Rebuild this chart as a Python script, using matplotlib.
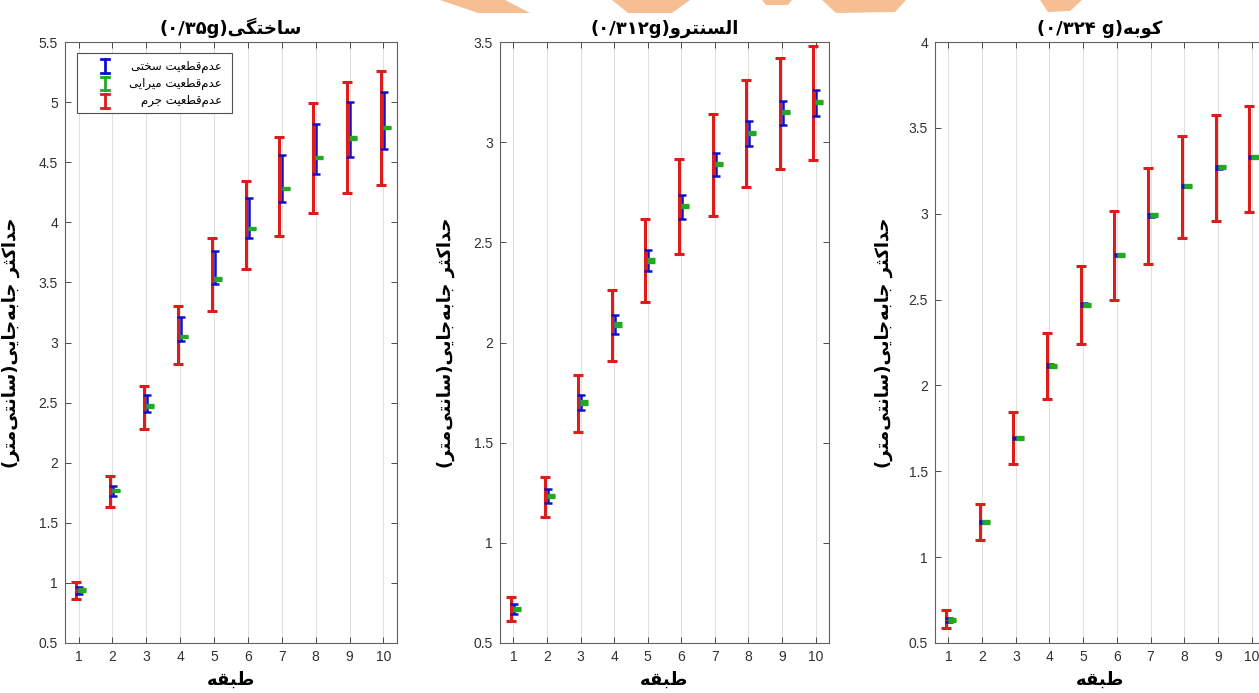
import matplotlib
matplotlib.use('Agg')
import matplotlib.pyplot as plt
from matplotlib.patches import Polygon, Rectangle
from matplotlib.lines import Line2D
from matplotlib.ticker import MultipleLocator, FormatStrFormatter

# ---------------------------------------------------------------- data
floors = [1, 2, 3, 4, 5, 6, 7, 8, 9, 10]

# panel 1 : artificial (0.35g)
mean_1 = [0.94, 1.77, 2.47, 3.05, 3.53, 3.95, 4.28, 4.54, 4.70, 4.79]
red_lo_1 = [0.87, 1.63, 2.28, 2.82, 3.26, 3.61, 3.89, 4.08, 4.24, 4.31]
red_hi_1 = [1.01, 1.89, 2.64, 3.30, 3.87, 4.34, 4.71, 4.99, 5.17, 5.26]
blue_lo_1 = [0.91, 1.72, 2.42, 3.01, 3.49, 3.87, 4.17, 4.40, 4.54, 4.61]
blue_hi_1 = [0.97, 1.81, 2.56, 3.21, 3.76, 4.20, 4.56, 4.82, 5.00, 5.08]

# panel 2 : El Centro (0.312g)
mean_2 = [0.67, 1.235, 1.70, 2.09, 2.41, 2.68, 2.89, 3.045, 3.15, 3.20]
red_lo_2 = [0.61, 1.13, 1.555, 1.91, 2.20, 2.44, 2.63, 2.775, 2.865, 2.91]
red_hi_2 = [0.73, 1.33, 1.84, 2.26, 2.615, 2.915, 3.14, 3.31, 3.42, 3.48]
blue_lo_2 = [0.645, 1.20, 1.665, 2.04, 2.355, 2.615, 2.83, 2.98, 3.085, 3.13]
blue_hi_2 = [0.695, 1.27, 1.74, 2.135, 2.46, 2.735, 2.945, 3.105, 3.205, 3.26]

# panel 3 : Kobe (0.324g)
mean_3 = [0.635, 1.205, 1.695, 2.115, 2.47, 2.76, 2.99, 3.16, 3.27, 3.33]
red_lo_3 = [0.585, 1.10, 1.545, 1.92, 2.24, 2.50, 2.705, 2.86, 2.96, 3.01]
red_hi_3 = [0.69, 1.31, 1.845, 2.305, 2.695, 3.015, 3.265, 3.45, 3.575, 3.63]
blue_lo_3 = [0.625, 1.198, 1.688, 2.106, 2.462, 2.752, 2.983, 3.153, 3.263, 3.322]
blue_hi_3 = [0.645, 1.212, 1.702, 2.124, 2.478, 2.768, 2.997, 3.167, 3.277, 3.338]

green_err = [0.006, 0.006, 0.006, 0.006, 0.006, 0.006, 0.006, 0.006, 0.006, 0.006]

ylims = [(0.5, 5.5), (0.5, 3.5), (0.5, 4.0)]

# ---------------------------------------------------------------- persian text shaping
FORMS = {
  '\u0627': ('\uFE8D', '\uFE8E', None, None),          # alef
  '\u0628': ('\uFE8F', '\uFE90', '\uFE91', '\uFE92'),  # beh
  '\u062A': ('\uFE95', '\uFE96', '\uFE97', '\uFE98'),  # teh
  '\u062B': ('\uFE99', '\uFE9A', '\uFE9B', '\uFE9C'),  # theh
  '\u062C': ('\uFE9D', '\uFE9E', '\uFE9F', '\uFEA0'),  # jeem
  '\u062D': ('\uFEA1', '\uFEA2', '\uFEA3', '\uFEA4'),  # hah
  '\u062E': ('\uFEA5', '\uFEA6', '\uFEA7', '\uFEA8'),  # khah
  '\u062F': ('\uFEA9', '\uFEAA', None, None),          # dal
  '\u0631': ('\uFEAD', '\uFEAE', None, None),          # reh
  '\u0633': ('\uFEB1', '\uFEB2', '\uFEB3', '\uFEB4'),  # seen
  '\u0637': ('\uFEC1', '\uFEC2', '\uFEC3', '\uFEC4'),  # tah
  '\u0639': ('\uFEC9', '\uFECA', '\uFECB', '\uFECC'),  # ain
  '\u0642': ('\uFED5', '\uFED6', '\uFED7', '\uFED8'),  # qaf
  '\u0644': ('\uFEDD', '\uFEDE', '\uFEDF', '\uFEE0'),  # lam
  '\u0645': ('\uFEE1', '\uFEE2', '\uFEE3', '\uFEE4'),  # meem
  '\u0646': ('\uFEE5', '\uFEE6', '\uFEE7', '\uFEE8'),  # noon
  '\u0647': ('\uFEE9', '\uFEEA', '\uFEEB', '\uFEEC'),  # heh
  '\u0648': ('\uFEED', '\uFEEE', None, None),          # waw
  '\u06A9': ('\uFB8E', '\uFB8F', '\uFB90', '\uFB91'),  # keheh
  '\u06AF': ('\uFB92', '\uFB93', '\uFB94', '\uFB95'),  # gaf
  '\u06CC': ('\uFBFC', '\uFBFD', '\uFBFE', '\uFBFF'),  # farsi yeh
}

def rtl(s):
  out = []
  for i, c in enumerate(s):
    if c not in FORMS:
      if c != '\u200c':
        out.append(c)
      continue
    prev = s[i-1] if i > 0 else None
    nxt = s[i+1] if i+1 < len(s) else None
    join_prev = prev in FORMS and FORMS[prev][2] is not None
    join_next = nxt in FORMS and FORMS[c][2] is not None
    iso, fin, ini, med = FORMS[c]
    if join_prev and join_next:
      out.append(med)
    elif join_prev:
      out.append(fin)
    elif join_next:
      out.append(ini)
    else:
      out.append(iso)
  return ''.join(reversed(out)).translate(str.maketrans('()', ')('))

titles = ['(\u06F0/\u06F3\u06F5g)' + rtl('ساختگی'),
          '(\u06F0/\u06F3\u06F1\u06F2g)' + rtl('السنترو'),
          '(\u06F0/\u06F3\u06F2\u06F4 g)' + rtl('کوبه')]
xlab = rtl('طبقه')
ylab = rtl('حداکثر جابه\u200cجایی(سانتی\u200cمتر)')
leg_labels = [rtl('عدم\u200cقطعیت سختی'), rtl('عدم\u200cقطعیت میرایی'), rtl('عدم\u200cقطعیت جرم')]

# ---------------------------------------------------------------- plot
RED = '#dd1c1c'
BLUE = '#1010c8'
GREEN = '#22a822'
FA = ['DejaVu Sans']

W, H = 1259, 693
fig = plt.figure(figsize=(W/100.0, H/100.0), dpi=100)
plt.rcParams['font.family'] = ['Liberation Sans', 'DejaVu Sans']

# orange watermark fragments at the top edge
for pts in [[(440, 0), (505, 0), (530, 13), (478, 13)],
            [(612, 0), (690, 0), (672, 13), (628, 13)],
            [(762, 0), (792, 0), (788, 5), (766, 5)],
            [(822, 0), (906, 0), (895, 12), (836, 13)],
            [(1040, 0), (1082, 0), (1070, 11), (1048, 12)]]:
  fig.patches.append(Polygon([(x/W, 1-y/H) for x, y in pts], closed=True,
                             transform=fig.transFigure, color='#f6be93', lw=0))

boxes = [(65, 397), (500, 829), (935, 1265)]
means = [mean_1, mean_2, mean_3]
reds = [(red_lo_1, red_hi_1), (red_lo_2, red_hi_2), (red_lo_3, red_hi_3)]
blues = [(blue_lo_1, blue_hi_1), (blue_lo_2, blue_hi_2), (blue_lo_3, blue_hi_3)]
ylx = [-0.136, -0.137, -0.128]

for k in range(3):
  l, r = boxes[k]
  ax = fig.add_axes([l/W, 1-643.0/H, (r-l)/W, 601.0/H])
  m = means[k]
  rlo, rhi = reds[k]
  blo, bhi = blues[k]

  xr = [f - 0.07 for f in floors]
  xb = [f + 0.02 for f in floors]
  xg = [f + 0.11 for f in floors]

  rc = [(a+b)/2.0 for a, b in zip(rlo, rhi)]
  bc = [(a+b)/2.0 for a, b in zip(blo, bhi)]
  ax.errorbar(xr, rc, yerr=[[c-a for c, a in zip(rc, rlo)], [b-c for c, b in zip(rc, rhi)]],
              fmt='none', ecolor=RED, elinewidth=2.2, capsize=3.3, capthick=2.2, zorder=3)
  ax.errorbar(xb, bc, yerr=[[c-a for c, a in zip(bc, blo)], [b-c for c, b in zip(bc, bhi)]],
              fmt='none', ecolor=BLUE, elinewidth=1.8, capsize=3.0, capthick=1.8, zorder=4)
  ax.errorbar(xg, m, yerr=green_err,
              fmt='none', ecolor=GREEN, elinewidth=2.0, capsize=3.2, capthick=2.4, zorder=5)

  ax.set_xlim(0.6, 10.4)
  ax.set_ylim(*ylims[k])
  ax.set_xticks(floors)
  ax.yaxis.set_major_locator(MultipleLocator(0.5))
  ax.yaxis.set_major_formatter(FormatStrFormatter('%g'))
  ax.tick_params(direction='in', top=True, right=True, length=4, width=0.6,
                 colors='#303030', labelsize=10, pad=5)
  for s in ax.spines.values():
    s.set_color('#606060')
    s.set_linewidth(0.8)
  ax.grid(axis='x', color='#e0e0e0', lw=0.8)
  ax.set_axisbelow(True)

  ax.set_title(titles[k], family=FA, fontweight='bold', fontsize=13, pad=6)
  ax.set_xlabel(xlab, family=FA, fontweight='bold', fontsize=13)
  ax.xaxis.set_label_coords(0.5, -0.047)
  ax.set_ylabel(ylab, family=FA, fontweight='bold', fontsize=13)
  ax.yaxis.set_label_coords(ylx[k], 0.5)

  if k == 0:
    # legend box drawn in axes fraction
    ax.add_patch(Rectangle((0.036, 0.882), 0.467, 0.1, transform=ax.transAxes,
                           fc='white', ec='#505050', lw=0.8, zorder=6))
    rows = [0.960, 0.931, 0.902]
    cols = [BLUE, GREEN, RED]
    for yy, cc, lab in zip(rows, cols, leg_labels):
      ax.add_line(Line2D([0.121, 0.121], [yy-0.011, yy+0.011], transform=ax.transAxes,
                         color=cc, lw=2.0, zorder=7))
      for ye in (yy-0.011, yy+0.011):
        ax.add_line(Line2D([0.109, 0.133], [ye, ye], transform=ax.transAxes,
                           color=cc, lw=2.0, zorder=7))
      ax.text(0.473, yy, lab, transform=ax.transAxes, ha='right', va='center',
              family=FA, fontsize=8.5, zorder=7)

fig.savefig('out.png', dpi=100)
